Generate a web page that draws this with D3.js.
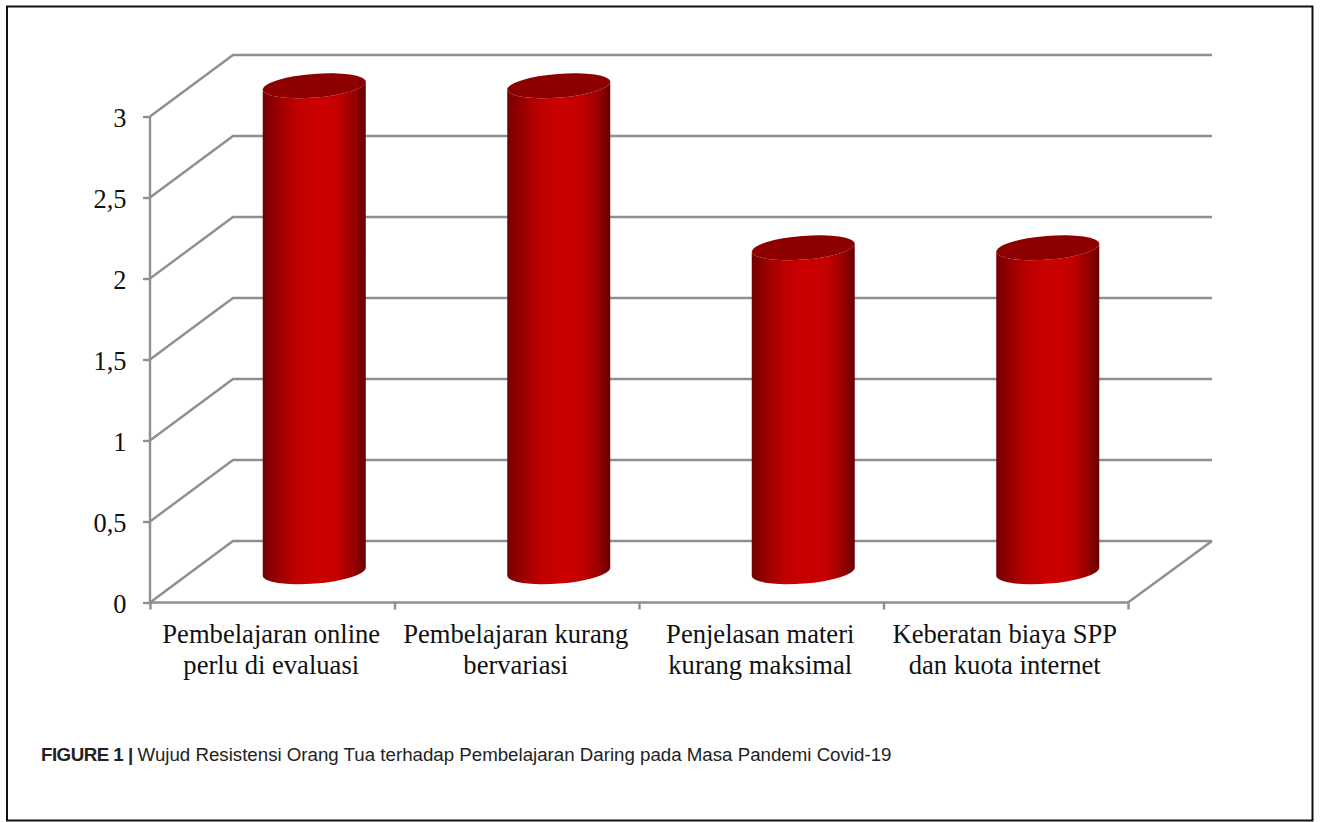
<!DOCTYPE html>
<html><head><meta charset="utf-8">
<script src="https://cdn.jsdelivr.net/npm/d3@7"></script>
<style>html,body{margin:0;padding:0;background:#fff}svg{display:block}</style>
</head><body><svg id="c" width="1320" height="822"></svg>
<script>
const categories = [
  ["Pembelajaran online","perlu di evaluasi"],
  ["Pembelajaran kurang","bervariasi"],
  ["Penjelasan materi","kurang maksimal"],
  ["Keberatan biaya SPP","dan kuota internet"]
];
const values = [3, 3, 2, 2];
const yTicks = [0, 0.5, 1, 1.5, 2, 2.5, 3];
const captionBold = "FIGURE 1 |";
const captionText = "Wujud Resistensi Orang Tua terhadap Pembelajaran Daring pada Masa Pandemi Covid-19";

const left = 150, right = 1128, y0 = 602.5, y3 = 116.5;
const depthX = 83, depthY = -61.5;
const gray = "#8f8f8f";
const svg = d3.select("#c");

svg.append("rect").attr("x",7).attr("y",6.5).attr("width",1305.5).attr("height",814)
  .attr("fill","#fff").attr("stroke","#111").attr("stroke-width",2);

const y = d3.scaleLinear().domain([0,3]).range([y0,y3]);
const x = d3.scaleBand().domain(d3.range(categories.length)).range([left,right]);

const grad = svg.append("defs").append("linearGradient").attr("id","side")
  .attr("x1","0").attr("x2","1").attr("y1","0").attr("y2","0");
[[0,"#750000"],[0.14,"#980000"],[0.32,"#bf0000"],[0.55,"#cc0000"],[0.74,"#c20000"],[0.89,"#960000"],[1,"#680000"]]
  .forEach(([o,c])=>grad.append("stop").attr("offset",o).attr("stop-color",c));

// Walls and floor
const walls = svg.append("g").attr("fill","none").attr("stroke",gray).attr("stroke-width",2.4);
walls.selectAll("path.g").data(yTicks).join("path").attr("class","g")
  .attr("d",v=>`M${left},${y(v)}L${left+depthX},${y(v)+depthY}L${right+depthX+1},${y(v)+depthY}`);
walls.append("path").attr("d",`M${right},${y0}L${right+depthX+1},${y0+depthY}`);

// Axes
const yAxis = d3.axisLeft(y).tickValues(yTicks).tickSize(7).tickPadding(16.5)
  .tickFormat(d=>String(d).replace(".",","));
const gy = svg.append("g").attr("transform",`translate(${left},0)`).call(yAxis);
const xTickScale = d3.scaleLinear().domain([0,categories.length]).range([left,right]);
const gx = svg.append("g").attr("transform",`translate(0,${y0})`)
  .call(d3.axisBottom(xTickScale).tickValues(d3.range(categories.length+1)).tickSize(7).tickFormat(""));
gy.select(".domain").attr("d",`M0,${y3}V${y0}`);
gx.select(".domain").attr("d",`M${left},0H${right}`);
[gy,gx].forEach(g=>g.selectAll("path,line").attr("stroke",gray).attr("stroke-width",2.4));
gy.selectAll("text").attr("font-family","'Liberation Serif',serif").attr("font-size",26.4).attr("fill","#111").attr("dy","0.36em");

// Category labels
svg.append("g").selectAll("text").data(categories).join("text")
  .attr("font-family","'Liberation Serif',serif").attr("font-size",26.6).attr("fill","#111")
  .attr("text-anchor","middle")
  .each(function(d,i){
    d3.select(this).selectAll("tspan").data(d).join("tspan")
      .attr("x",x(i)+x.bandwidth()/2-1)
      .attr("y",(t,j)=>643+j*31)
      .text(t=>t);
  });

// Cylinders, standing halfway into the depth
const rx = 51.5, ry = 11.8, rot = -4.5, tilt = 4;
const bars = svg.append("g").selectAll("g").data(values).join("g");
bars.each(function(v,i){
  const g = d3.select(this);
  const cx = x(i)+x.bandwidth()/2+depthX/2+0.5;
  const base = y0+depthY/2;
  const top = y(v)+depthY/2;
  g.append("path").attr("fill","url(#side)")
    .attr("d",`M${cx-rx},${top+tilt}L${cx-rx},${base+tilt}A${rx},${ry} ${rot} 0 0 ${cx+rx},${base-tilt}L${cx+rx},${top-tilt}A${rx},${ry} ${rot} 0 1 ${cx-rx},${top+tilt}Z`);
  g.append("path").attr("fill","#8c0000")
    .attr("d",`M${cx-rx},${top+tilt}A${rx},${ry} ${rot} 0 1 ${cx+rx},${top-tilt}A${rx},${ry} ${rot} 0 1 ${cx-rx},${top+tilt}Z`);
});

// Caption
const cap = svg.append("text").attr("x",41).attr("y",761).attr("font-family","'Liberation Sans',Arial,sans-serif").attr("font-size",18.7).attr("fill","#222");
cap.append("tspan").attr("font-weight","bold").attr("font-size",18.7).attr("letter-spacing",-0.5).text(captionBold);
cap.append("tspan").attr("dx",5).text(captionText);
</script></body></html>
